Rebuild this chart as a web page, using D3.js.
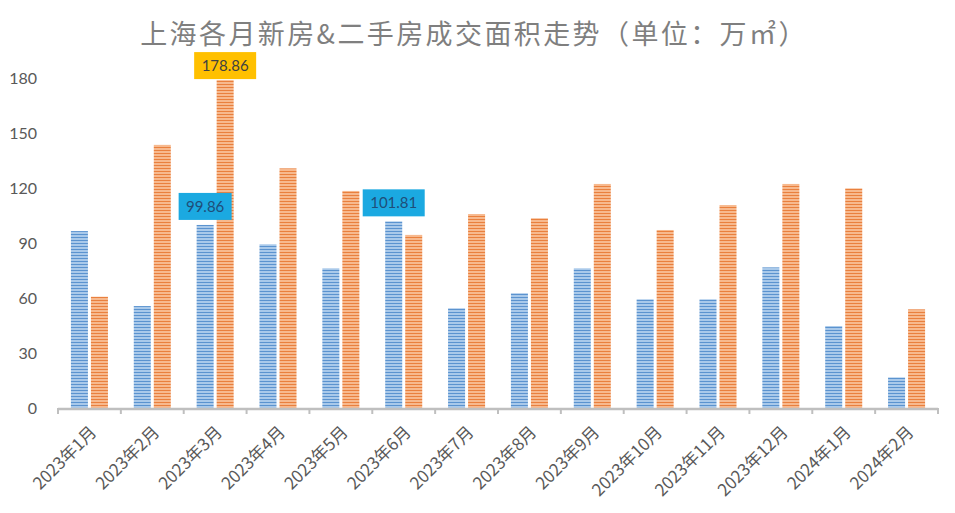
<!DOCTYPE html>
<html lang="zh">
<head>
<meta charset="UTF-8">
<title>上海各月新房&二手房成交面积走势</title>
<script src="https://cdn.jsdelivr.net/npm/d3@7"></script>
<style>
  body { margin: 0; background: #fff; }
  svg { display: block; }
</style>
</head>
<body>
<div id="chart"></div>
<script>
// months on the x axis
var months = ["2023年1月", "2023年2月", "2023年3月", "2023年4月", "2023年5月", "2023年6月",
              "2023年7月", "2023年8月", "2023年9月", "2023年10月", "2023年11月", "2023年12月",
              "2024年1月", "2024年2月"];
// 新房 (blue) and 二手房 (orange), 万㎡
var newHome = [96.5, 55.6, 99.86, 89.3, 76.2, 101.81, 54.4, 62.6, 76.2, 59.3, 59.3, 76.7, 44.7, 16.7];
var resale  = [60.7, 143.5, 178.86, 130.7, 118.4, 94.4, 105.8, 103.5, 122.2, 97.1, 110.7, 122.2, 119.8, 53.8];
var yTicks = [0, 30, 60, 90, 120, 150, 180];
// labelled bars: [series, month index]
var callouts = [["new", 2], ["resale", 2], ["new", 5]];

var W = 955, H = 513;
var margin = {top: 78, right: 17, bottom: 105, left: 58};
var width = W - margin.left - margin.right,
    height = 408 - margin.top;

var svg = d3.select("#chart").append("svg")
    .attr("width", W).attr("height", H);

// striped fills
var defs = svg.append("defs");
function stripes(id, light, dark) {
  var p = defs.append("pattern").attr("id", id)
      .attr("patternUnits", "userSpaceOnUse").attr("width", 4).attr("height", 3);
  p.append("rect").attr("width", 4).attr("height", 3).attr("fill", light);
  p.append("rect").attr("width", 4).attr("height", 1).attr("fill", dark);
}
stripes("blueStripe", "#a9c9ea", "#5b93cf");
stripes("orangeStripe", "#f7b98e", "#e9803e");

svg.append("text")
    .attr("x", 474).attr("y", 44)
    .attr("text-anchor", "middle")
    .attr("fill", "#7f7f7f")
    .style("font-family", "'Noto Sans CJK SC', sans-serif")
    .style("font-size", "27px")
    .style("letter-spacing", "2.4px")
    .text("上海各月新房&二手房成交面积走势（单位：万㎡）");

var g = svg.append("g")
    .attr("transform", "translate(" + margin.left + "," + margin.top + ")");

var x0 = d3.scaleBand().domain(months).range([0, width]).paddingInner(0.411).paddingOuter(0.2055);
var x1 = d3.scaleBand().domain(["new", "resale"]).range([0, x0.bandwidth()]).paddingInner(0.15);
var y = d3.scaleLinear().domain([0, 180]).range([height, 0]);

var rows = months.map(function(m, i) {
  return {month: m, new: newHome[i], resale: resale[i]};
});

// y tick labels
g.append("g")
    .call(d3.axisLeft(y).tickValues(yTicks).tickSize(0).tickPadding(21))
    .call(function(a) { a.select(".domain").remove(); })
    .selectAll("text")
    .attr("fill", "#595959")
    .style("font-family", "Lato, 'Liberation Sans', sans-serif")
    .style("font-size", "16px");

// bars
var groups = g.selectAll(".grp").data(rows).enter().append("g")
    .attr("transform", function(d) { return "translate(" + x0(d.month) + ",0)"; });
groups.selectAll("rect")
    .data(function(d) { return ["new", "resale"].map(function(k) { return {key: k, value: d[k]}; }); })
    .enter().append("rect")
    .attr("x", function(d) { return x1(d.key); })
    .attr("width", x1.bandwidth())
    .attr("y", function(d) { return y(d.value); })
    .attr("height", function(d) { return height - y(d.value); })
    .attr("fill", function(d) { return d.key === "new" ? "url(#blueStripe)" : "url(#orangeStripe)"; });

// x axis line with ticks on band boundaries
var step = x0.step();
var bounds = d3.range(months.length + 1).map(function(i) { return i * step; });
g.append("line")
    .attr("x1", 0).attr("x2", width)
    .attr("y1", height + 1).attr("y2", height + 1)
    .attr("stroke", "#bfbfbf").attr("stroke-width", 2.5);
g.selectAll(".tk").data(bounds).enter().append("line")
    .attr("x1", function(d) { return d; }).attr("x2", function(d) { return d; })
    .attr("y1", height).attr("y2", height + 6)
    .attr("stroke", "#bfbfbf").attr("stroke-width", 2);

g.selectAll(".xl").data(months).enter().append("text")
    .attr("transform", function(d) {
      return "translate(" + (x0(d) + x0.bandwidth() / 2 + 4) + "," + (height + 21) + ") rotate(-45)";
    })
    .attr("text-anchor", "end")
    .attr("dy", "0.35em")
    .attr("fill", "#595959")
    .style("font-family", "'Noto Sans CJK SC', sans-serif")
    .style("font-size", "17px")
    .text(function(d) { return d; });

// callout labels
callouts.forEach(function(c) {
  var i = c[1], v = c[0] === "new" ? newHome[i] : resale[i];
  var cx = x0(months[i]) + x1(c[0]) + x1.bandwidth() / 2;
  var bw = c[0] === "new" && v < 100 ? 53 : 62, bh = 27;
  var gap = c[0] === "new" ? 5 : 1;
  var lab = g.append("g").attr("transform", "translate(" + cx + "," + (y(v) - gap - bh) + ")");
  lab.append("rect")
      .attr("x", -bw / 2).attr("width", bw).attr("height", bh)
      .attr("fill", c[0] === "new" ? "#1ba9e1" : "#ffc000");
  lab.append("text")
      .attr("y", bh / 2).attr("dy", "0.36em")
      .attr("text-anchor", "middle")
      .attr("fill", c[0] === "new" ? "#1f4e79" : "#404040")
      .style("font-family", "Lato, 'Liberation Sans', sans-serif")
      .style("font-size", "15px")
      .text(v.toFixed(2));
});
</script>
</body>
</html>
